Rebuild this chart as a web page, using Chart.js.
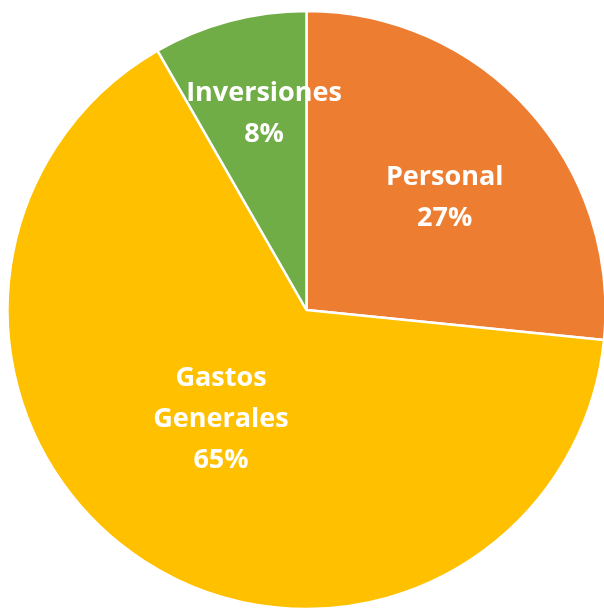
<!DOCTYPE html>
<html>
<head>
<meta charset="utf-8">
<script src="https://cdn.jsdelivr.net/npm/chart.js@4.4.1/dist/chart.umd.min.js"></script>
<style>
  html, body { margin: 0; padding: 0; background: #fff; }
  #wrap { width: 604px; height: 612px; }
</style>
</head>
<body>
<div id="wrap"><canvas id="pieChart"></canvas></div>
<script>
// Distribución del gasto
const labels = ["Personal", "Gastos Generales", "Inversiones"];
const labelLines = [["Personal"], ["Gastos", "Generales"], ["Inversiones"]];
const shares = [26.6, 65.1, 8.3];
const colors = ["#ED7D31", "#FFC000", "#70AD47"];

// where each label sits inside its slice (fraction of radius, angle nudge in degrees)
const labelRadius = [0.595, 0.463, 0.67];
const labelNudge = [3.1, 5.2, 2.7];

const sliceLabels = {
  id: "sliceLabels",
  afterDatasetsDraw(chart) {
    const ctx = chart.ctx;
    const meta = chart.getDatasetMeta(0);
    const total = shares.reduce((a, b) => a + b, 0);
    ctx.save();
    ctx.fillStyle = "#fff";
    ctx.font = "bold 27px 'Open Sans', Lato, sans-serif";
    ctx.textAlign = "center";
    ctx.textBaseline = "middle";
    meta.data.forEach((arc, i) => {
      const mid = (arc.startAngle + arc.endAngle) / 2 + labelNudge[i] * Math.PI / 180;
      const r = arc.outerRadius * labelRadius[i];
      const x = arc.x + Math.cos(mid) * r;
      const y = arc.y + Math.sin(mid) * r;
      const pct = Math.round(shares[i] / total * 100) + "%";
      const lines = labelLines[i].concat([pct]);
      const lh = 41;
      const top = y - (lines.length - 1) * lh / 2;
      lines.forEach((t, k) => ctx.fillText(t, x, top + k * lh));
    });
    ctx.restore();
  }
};

new Chart(document.getElementById("pieChart"), {
  type: "pie",
  data: {
    labels: labels,
    datasets: [{
      data: shares,
      backgroundColor: colors,
      borderColor: "#fff",
      borderWidth: 2.5
    }]
  },
  options: {
    responsive: true,
    maintainAspectRatio: false,
    animation: false,
    radius: 299,
    layout: { padding: { left: 9, top: 12, right: 0, bottom: 4 } },
    plugins: {
      legend: { display: false },
      tooltip: { enabled: false }
    }
  },
  plugins: [sliceLabels]
});
</script>
</body>
</html>
